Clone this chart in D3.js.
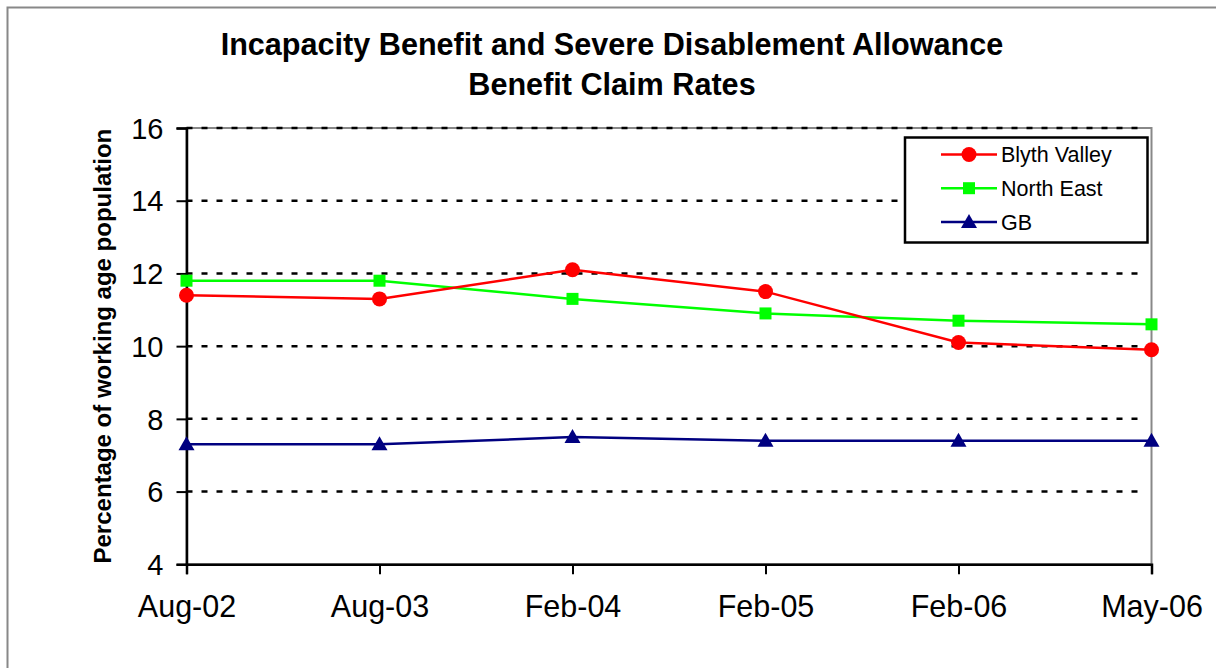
<!DOCTYPE html>
<html><head><meta charset="utf-8">
<script src="https://cdn.jsdelivr.net/npm/d3@7"></script>
<style>html,body{margin:0;padding:0;background:#fff;}svg{display:block;}</style>
</head><body>
<svg id="chart" width="1216" height="668"></svg>
<script>
const titleLines = ["Incapacity Benefit and Severe Disablement Allowance", "Benefit Claim Rates"];
const yAxisTitle = "Percentage of working age population";
const categories = ["Aug-02", "Aug-03", "Feb-04", "Feb-05", "Feb-06", "May-06"];
const blythValley = [11.4, 11.3, 12.1, 11.5, 10.1, 9.9];
const northEast = [11.8, 11.8, 11.3, 10.9, 10.7, 10.6];
const gb = [7.3, 7.3, 7.5, 7.4, 7.4, 7.4];
const yTicks = [4, 6, 8, 10, 12, 14, 16];
const seriesNames = ["Blyth Valley", "North East", "GB"];
const seriesColors = ["#ff0000", "#00ff00", "#000080"];
const seriesShapes = ["circle", "square", "triangle"];

const series = seriesNames.map((n, i) => ({
  name: n, values: [blythValley, northEast, gb][i], color: seriesColors[i], shape: seriesShapes[i]
}));

const svg = d3.select("#chart");
const font = "Liberation Sans, Arial, sans-serif";
const L = 186.5, R = 1151.5, T = 128, B = 564.3;

// outer border
svg.append("rect").attr("x", 7.5).attr("y", 7.5).attr("width", 1240).attr("height", 700)
  .attr("fill", "none").attr("stroke", "#888").attr("stroke-width", 2);

const x = d3.scalePoint().domain(categories).range([L, R]).padding(0);
const y = d3.scaleLinear().domain([4, 16]).range([B, T]);

// plot area border (gray)
svg.append("rect").attr("x", L).attr("y", T).attr("width", R - L).attr("height", B - T)
  .attr("fill", "none").attr("stroke", "#888").attr("stroke-width", 2);

// gridlines
svg.append("g").selectAll("line").data(yTicks.filter(t => t > 4)).join("line")
  .attr("x1", L).attr("x2", R - 6).attr("y1", d => y(d)).attr("y2", d => y(d))
  .attr("stroke", "#000").attr("stroke-width", 2.5).attr("stroke-dasharray", "6,9");

// title
svg.append("g").selectAll("text").data(titleLines).join("text")
  .attr("x", 612).attr("y", (d, i) => 55 + i * 40)
  .attr("text-anchor", "middle").attr("font-family", font).attr("font-weight", "bold")
  .attr("font-size", 30.6).attr("fill", "#000").text(d => d);

// y axis
const yAxis = svg.append("g").attr("transform", `translate(${L},0)`)
  .call(d3.axisLeft(y).tickValues(yTicks).tickSize(10).tickPadding(13).tickFormat(d3.format("d")));
yAxis.select(".domain").attr("stroke", "#000").attr("stroke-width", 2.5);
yAxis.selectAll(".tick line").attr("stroke", "#000").attr("stroke-width", 2);
yAxis.selectAll(".tick text").attr("font-family", font).attr("font-size", 29).attr("fill", "#000").attr("dy", "0.35em");

// x axis
const xAxis = svg.append("g").attr("transform", `translate(0,${B})`)
  .call(d3.axisBottom(x).tickSize(10).tickPadding(0));
xAxis.select(".domain").attr("stroke", "#000").attr("stroke-width", 2.5);
xAxis.selectAll(".tick line").attr("stroke", "#000").attr("stroke-width", 2);
xAxis.selectAll(".tick text").attr("font-family", font).attr("font-size", 30.5).attr("fill", "#000")
  .attr("dy", null).attr("y", 53);

// y axis title
svg.append("text").attr("transform", `translate(111,${(T + B) / 2}) rotate(-90)`)
  .attr("text-anchor", "middle").attr("font-family", font).attr("font-weight", "bold")
  .attr("font-size", 24).attr("fill", "#000").text(yAxisTitle);

function drawMarker(g, shape, color, cx, cy) {
  if (shape === "circle") {
    g.append("circle").attr("cx", cx).attr("cy", cy).attr("r", 7.5).attr("fill", color);
  } else if (shape === "square") {
    g.append("rect").attr("x", cx - 6).attr("y", cy - 6).attr("width", 12).attr("height", 12).attr("fill", color);
  } else {
    g.append("path").attr("d", `M${cx},${cy - 8}L${cx + 8},${cy + 6}L${cx - 8},${cy + 6}Z`).attr("fill", color);
  }
}

const line = d3.line().x((d, i) => x(categories[i])).y(d => y(d));
// draw in order: GB, North East, Blyth Valley on top
[2, 1, 0].forEach(si => {
  const s = series[si];
  const g = svg.append("g");
  g.append("path").attr("d", line(s.values)).attr("fill", "none")
    .attr("stroke", s.color).attr("stroke-width", 2.5);
  s.values.forEach((v, i) => drawMarker(g, s.shape, s.color, x(categories[i]), y(v)));
});

// legend
const lg = svg.append("g");
lg.append("rect").attr("x", 905).attr("y", 137.5).attr("width", 242.5).attr("height", 105)
  .attr("fill", "#fff").attr("stroke", "#000").attr("stroke-width", 2.5);
series.forEach((s, i) => {
  const cy = 154.5 + i * 33.7;
  lg.append("line").attr("x1", 941).attr("x2", 997).attr("y1", cy).attr("y2", cy)
    .attr("stroke", s.color).attr("stroke-width", 2.5);
  drawMarker(lg, s.shape, s.color, 969, cy);
  lg.append("text").attr("x", 1001).attr("y", cy).attr("dy", "0.36em")
    .attr("font-family", font).attr("font-size", 21.5).attr("fill", "#000").text(s.name);
});
</script>
</body></html>
